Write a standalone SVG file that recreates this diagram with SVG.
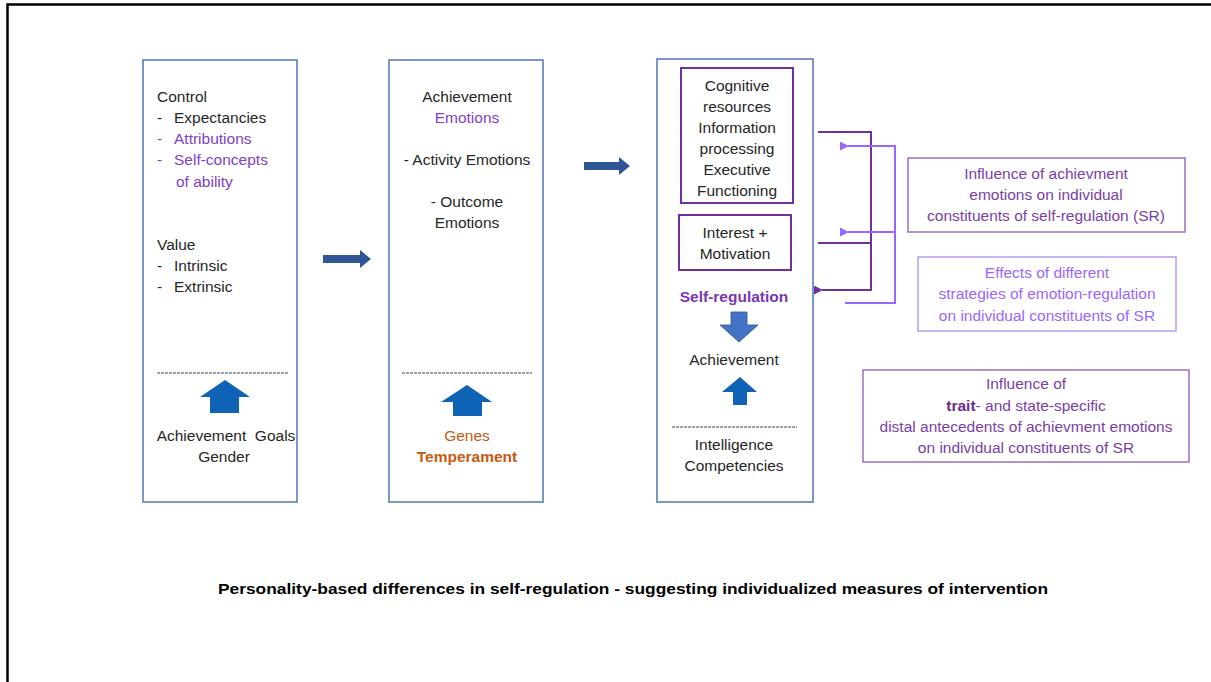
<svg xmlns="http://www.w3.org/2000/svg" width="1211" height="682" viewBox="0 0 1211 682">
  <style>
    text { font-family: "Liberation Sans", Arial, sans-serif; font-size: 15.5px; fill: #262626; }
    .c { text-anchor: middle; }
    .pur { fill: #8040c8; }
    .org { fill: #c55a11; }
    .b { font-weight: bold; }
    .panel { fill: #ffffff; stroke: #5a7dba; stroke-width: 1.6; }
    .inner { fill: #ffffff; stroke: #7030a0; stroke-width: 2; }
    .dash { stroke: #404040; stroke-width: 1; stroke-dasharray: 3 1; }
    .up { fill: #0e63b6; }
    .flow { fill: #2f5597; }
    .dk { fill: none; stroke: #7030a0; stroke-width: 2; }
    .lt { fill: none; stroke: #9966ff; stroke-width: 2; }
    .note1 { fill: #ffffff; stroke: #9d6cc4; stroke-width: 1.5; }
    .note2 { fill: #ffffff; stroke: #b79cf2; stroke-width: 1.5; }
    .t1 { fill: #7a3ea8; }
    .t2 { fill: #9966ff; }
  </style>
  <defs>
    <marker id="mDark" markerWidth="9" markerHeight="9" refX="1" refY="4.5" orient="auto-start-reverse" markerUnits="userSpaceOnUse">
      <path d="M9,0 L0,4.5 L9,9 Z" fill="#7030a0"/>
    </marker>
    <marker id="mLight" markerWidth="9" markerHeight="9" refX="1" refY="4.5" orient="auto-start-reverse" markerUnits="userSpaceOnUse">
      <path d="M9,0 L0,4.5 L9,9 Z" fill="#9966ff"/>
    </marker>
  </defs>

  <rect width="1211" height="682" fill="#ffffff"/>
  <!-- outer frame (top and left edges) -->
  <path d="M7.5,682 L7.5,4.5 L1211,4.5" fill="none" stroke="#000000" stroke-width="2.5"/>

  <!-- panel 1: control and value appraisals -->
  <g id="appraisals">
    <rect class="panel" x="143" y="60" width="154" height="442"/>
    <text x="157" y="102">Control</text>
    <text y="123"><tspan x="157">-</tspan><tspan x="174">Expectancies</tspan></text>
    <text y="144" class="pur"><tspan x="157">-</tspan><tspan x="174">Attributions</tspan></text>
    <text y="165" class="pur"><tspan x="157">-</tspan><tspan x="174">Self-concepts</tspan></text>
    <text x="176" y="187" class="pur">of ability</text>
    <text x="157" y="250">Value</text>
    <text y="271"><tspan x="157">-</tspan><tspan x="174">Intrinsic</tspan></text>
    <text y="292"><tspan x="157">-</tspan><tspan x="174">Extrinsic</tspan></text>
    <line class="dash" x1="157" y1="373" x2="288" y2="373"/>
    <path class="up" d="M225,380 L250,397 L239,397 L239,413 L210,413 L210,397 L200,397 Z"/>
    <text x="226" y="441" class="c" xml:space="preserve">Achievement  Goals</text>
    <text x="224" y="462" class="c">Gender</text>
  </g>

  <!-- panel 2: achievement emotions -->
  <g id="emotions">
    <rect class="panel" x="389" y="60" width="154" height="442"/>
    <text x="467" y="102" class="c">Achievement</text>
    <text x="467" y="123" class="c pur">Emotions</text>
    <text x="467" y="165" class="c">- Activity Emotions</text>
    <text x="467" y="207" class="c">- Outcome</text>
    <text x="467" y="228" class="c">Emotions</text>
    <line class="dash" x1="402" y1="373" x2="532" y2="373"/>
    <path class="up" d="M467,385 L492,402 L482,402 L482,416 L453,416 L453,402 L441,402 Z"/>
    <text x="467" y="441" class="c org">Genes</text>
    <text x="467" y="462" class="c org b">Temperament</text>
  </g>

  <!-- panel 3: self-regulation and achievement -->
  <g id="self-regulation">
    <rect class="panel" x="657" y="59" width="156" height="443"/>
    <rect class="inner" x="681" y="68" width="112" height="135"/>
    <text x="737" y="91" class="c">Cognitive</text>
    <text x="737" y="112" class="c">resources</text>
    <text x="737" y="133" class="c">Information</text>
    <text x="737" y="154" class="c">processing</text>
    <text x="737" y="175" class="c">Executive</text>
    <text x="737" y="196" class="c">Functioning</text>
    <rect class="inner" x="679" y="215" width="112" height="55"/>
    <text x="735" y="238" class="c">Interest +</text>
    <text x="735" y="259" class="c">Motivation</text>
    <text x="734" y="302" class="c b" style="fill:#7a35b0">Self-regulation</text>
    <path d="M731,312 L747,312 L747,325 L758,325 L739,342 L720,325 L731,325 Z" fill="#4472c4" stroke="#2f5597" stroke-width="0.8"/>
    <text x="734" y="365" class="c">Achievement</text>
    <path class="up" d="M740,377 L757,392 L747,392 L747,405 L733,405 L733,392 L722,392 Z"/>
    <line class="dash" x1="672" y1="427" x2="797" y2="427"/>
    <text x="734" y="450" class="c">Intelligence</text>
    <text x="734" y="471" class="c">Competencies</text>
  </g>

  <!-- flow arrows between panels -->
  <g id="flow-arrows">
    <path class="flow" d="M323,255 L360,255 L360,250 L371,259 L360,268 L360,263 L323,263 Z"/>
    <path class="flow" d="M584,162 L619,162 L619,157 L630,166 L619,175 L619,170 L584,170 Z"/>
  </g>

  <!-- feedback connectors -->
  <g id="connectors">
    <path class="dk" d="M818,132 L871,132 L871,290 L822,290" marker-end="url(#mDark)"/>
    <line class="dk" x1="818" y1="243" x2="871" y2="243"/>
    <path class="lt" d="M845,303 L895,303 L895,146 L848,146" marker-end="url(#mLight)"/>
    <line class="lt" x1="895" y1="232" x2="848" y2="232" marker-end="url(#mLight)"/>
  </g>

  <!-- annotation boxes -->
  <g id="note-emotions">
    <rect class="note1" x="908" y="158" width="277" height="74"/>
    <text x="1046" y="179" class="c t1">Influence of achievment</text>
    <text x="1046" y="200" class="c t1">emotions  on individual</text>
    <text x="1046" y="221" class="c t1">constituents of self-regulation  (SR)</text>
  </g>
  <g id="note-strategies">
    <rect class="note2" x="918" y="257" width="258" height="74"/>
    <text x="1047" y="278" class="c t2">Effects of different</text>
    <text x="1047" y="299" class="c t2">strategies of emotion-regulation</text>
    <text x="1047" y="321" class="c t2">on individual  constituents of SR</text>
  </g>
  <g id="note-antecedents">
    <rect class="note1" x="863" y="370" width="326" height="92"/>
    <text x="1026" y="389" class="c t1">Influence of</text>
    <text x="1026" y="411" class="c t1"><tspan class="b" style="fill:#6a2c8c">trait</tspan>- and state-specific</text>
    <text x="1026" y="432" class="c t1">distal antecedents of achievment emotions</text>
    <text x="1026" y="453" class="c t1">on individual  constituents of SR</text>
  </g>

  <!-- caption -->
  <text x="633" y="594" class="c b" style="fill:#000000" textLength="830" lengthAdjust="spacingAndGlyphs">Personality-based differences in self-regulation - suggesting individualized measures of intervention</text>
</svg>
